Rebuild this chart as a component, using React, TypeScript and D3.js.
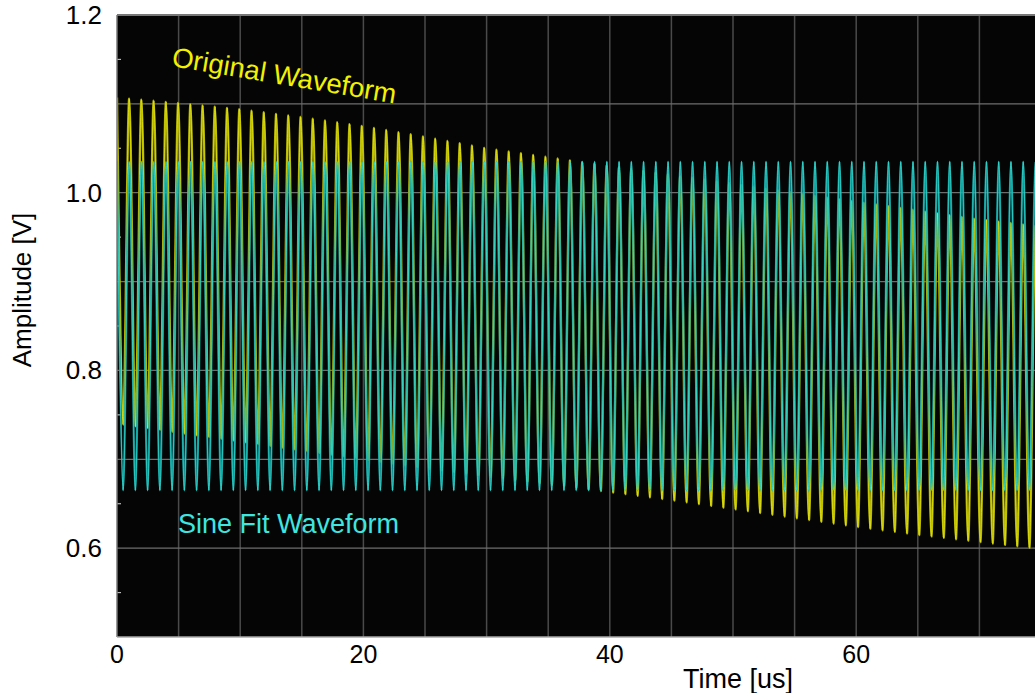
import React from 'react';
import * as d3 from 'd3';

// envelope readings (V) taken every 5 us off the scope trace
const envTimes = [0, 5, 10, 15, 20, 25, 30, 35, 40, 45, 50, 55, 60, 65, 70, 75];
const originalTop = [1.107, 1.101, 1.094, 1.085, 1.075, 1.063, 1.05, 1.04, 1.03, 1.02, 1.01, 1.0, 0.99, 0.98, 0.97, 0.962];
const originalBottom = [0.74, 0.73, 0.72, 0.71, 0.7, 0.69, 0.681, 0.672, 0.663, 0.654, 0.644, 0.634, 0.624, 0.615, 0.607, 0.599];
const fitTop = [1.035, 1.035, 1.035, 1.035, 1.035, 1.035, 1.035, 1.035, 1.035, 1.035, 1.035, 1.035, 1.035, 1.035, 1.035, 1.035];
const fitBottom = [0.665, 0.665, 0.665, 0.665, 0.665, 0.665, 0.665, 0.665, 0.665, 0.665, 0.665, 0.665, 0.665, 0.665, 0.665, 0.665];
const periodUs = 0.994;

const xTicks = [0, 20, 40, 60];
const yTicks = [0.6, 0.8, 1.0, 1.2];

const W = 1035;
const H = 693;
const left = 117;
const top = 15;
const bottom = 637;

const x = d3.scaleLinear().domain([0, 75]).range([left, left + 75 * 12.32]);
const y = d3.scaleLinear().domain([0.5, 1.2]).range([bottom, top]);

// peaks and troughs alternate every half period
const makeWave = (hi: number[], lo: number[]) => {
  const hiAt = d3.scaleLinear().domain(envTimes).range(hi);
  const loAt = d3.scaleLinear().domain(envTimes).range(lo);
  return d3.range(0, 75.6, periodUs / 2).map((t, i) => ({ t, v: i % 2 === 0 ? hiAt(t) : loAt(t) }));
};

const line = d3.line<{ t: number; v: number }>()
  .x(d => x(d.t))
  .y(d => y(d.v))
  .curve(d3.curveCardinal.tension(0));

const font = 'Arial, "Liberation Sans", sans-serif';

const App = () => {
  const original = makeWave(originalTop, originalBottom);
  const fit = makeWave(fitTop, fitBottom);
  const vGrid = d3.range(5, 75, 5);
  const hGrid = d3.range(0.6, 1.15, 0.1);
  const minor = d3.range(0.55, 1.2, 0.1);

  return (
    <div>
      <style>{'body{margin:0;background:#fff}'}</style>
      <svg width={W} height={H} style={{ display: 'block' }} fontFamily={font}>
        <defs>
          <clipPath id="plot">
            <rect x={left} y={top} width={W - left} height={bottom - top} />
          </clipPath>
        </defs>
        <rect x={left} y={top} width={W - left} height={bottom - top} fill="#050505" />
        {vGrid.map(v => (
          <line key={'v' + v} x1={x(v)} x2={x(v)} y1={top} y2={bottom} stroke="#4a4a4a" strokeWidth={1.5} />
        ))}
        {hGrid.map(v => (
          <line key={'h' + v} x1={left} x2={W} y1={y(v)} y2={y(v)} stroke="#6e6e6e" strokeWidth={1.2} />
        ))}
        {minor.map(v => (
          <line key={'m' + v} x1={left} x2={left + 4} y1={y(v)} y2={y(v)} stroke="#bbbbbb" strokeWidth={1.2} />
        ))}
        <g clipPath="url(#plot)">
          <path d={line(original) || ''} fill="none" stroke="#a8a800" strokeWidth={2.4} />
          <path d={line(original) || ''} fill="none" stroke="#eeee10" strokeWidth={1} opacity={0.7} />
          <path d={line(fit) || ''} fill="none" stroke="#0a9c9c" strokeWidth={2.2} opacity={0.85} />
          <path d={line(fit) || ''} fill="none" stroke="#3ff0e6" strokeWidth={0.9} opacity={0.7} />
        </g>
        <line x1={left} x2={W} y1={top} y2={top} stroke="#777" strokeWidth={2} />
        <line x1={left} x2={left} y1={top} y2={bottom} stroke="#777" strokeWidth={1.5} />
        <line x1={left} x2={W} y1={bottom} y2={bottom} stroke="#aaa" strokeWidth={1.5} />

        {yTicks.map(v => (
          <text key={'yt' + v} x={102} y={y(v) + 9} textAnchor="end" fontSize={26} fill="#000">
            {v.toFixed(1)}
          </text>
        ))}
        {xTicks.map(v => (
          <text key={'xt' + v} x={x(v)} y={663} textAnchor="middle" fontSize={25} fill="#000">
            {v}
          </text>
        ))}
        <text x={683} y={688} fontSize={27} fill="#000">Time [us]</text>
        <text transform="translate(31,290) rotate(-90)" textAnchor="middle" fontSize={26} fill="#000">
          Amplitude [V]
        </text>

        <text transform="translate(171,66) rotate(9.5)" fontSize={27.5} fill="#f2f200">Original Waveform</text>
        <text x={178} y={533} fontSize={27} fill="#3fe6e0">Sine Fit Waveform</text>
      </svg>
    </div>
  );
};

export default App;
